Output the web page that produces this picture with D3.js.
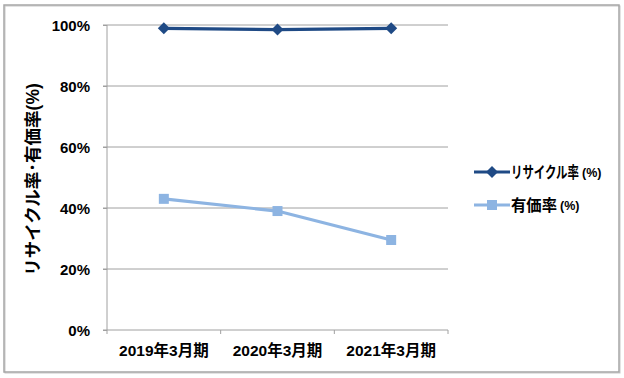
<!DOCTYPE html>
<html>
<head>
<meta charset="utf-8">
<script src="https://cdn.jsdelivr.net/npm/d3@7"></script>
<style>
  body { margin: 0; background: #fff; }
  text { font-family: "Liberation Sans", "Noto Sans CJK JP", sans-serif; font-weight: bold; fill: #000; }
</style>
</head>
<body>
<div id="chart"></div>
<script>
const categories = ["2019年3月期", "2020年3月期", "2021年3月期"];
const recycleRate = [98.9, 98.5, 98.9];
const valuableRate = [43.0, 39.0, 29.5];
const yTicks = [0, 20, 40, 60, 80, 100];
const seriesNames = ["リサイクル率", "有価率"];
const seriesColors = ["#1F4A85", "#8DB4E2"];

const W = 624, H = 378;
const margin = {top: 25, right: 176, bottom: 48, left: 107};
const width = W - margin.left - margin.right;
const height = H - margin.top - margin.bottom;

const root = d3.select("#chart").append("svg")
    .attr("width", W)
    .attr("height", H);

// outer frame
root.append("rect")
    .attr("x", 5).attr("y", 6)
    .attr("width", 615).attr("height", 367)
    .attr("fill", "none")
    .attr("stroke", "#c8c8c8")
    .attr("stroke-width", 1);
root.append("rect")
    .attr("x", 4).attr("y", 5)
    .attr("width", 615).attr("height", 367)
    .attr("fill", "none")
    .attr("stroke", "#a6a6a6")
    .attr("stroke-width", 1.5);

const svg = root.append("g")
    .attr("transform", `translate(${margin.left},${margin.top})`);

const x = d3.scaleBand().domain(categories).range([0, width]);
const y = d3.scaleLinear().domain([0, 100]).range([height, 0]);

// gridlines
svg.selectAll(".grid")
    .data(yTicks.filter(d => d > 0))
    .enter().append("line")
    .attr("x1", -4).attr("x2", width)
    .attr("y1", d => y(d)).attr("y2", d => y(d))
    .attr("stroke", "#a0a0a0")
    .attr("stroke-width", 1);

// y axis
const yAxis = d3.axisLeft(y).tickValues(yTicks).tickFormat(d => d + "%").tickSize(4).tickPadding(13);
const yg = svg.append("g").call(yAxis);
yg.select(".domain").attr("stroke", "#a0a0a0").attr("d", `M0,${height}V0`);
yg.selectAll(".tick line").attr("stroke", "#a0a0a0");
yg.selectAll("text").style("font-size", "15px").attr("dy", "0.35em");

// x axis
const xg = svg.append("g")
    .attr("transform", `translate(0,${height})`)
    .call(d3.axisBottom(x).tickSize(0).tickPadding(15));
xg.select(".domain").attr("stroke", "#a0a0a0").attr("d", `M-4,0H${width}`);
xg.selectAll("text").style("font-size", "15.5px");
svg.selectAll(".xtick")
    .data(d3.range(categories.length + 1))
    .enter().append("line")
    .attr("x1", i => i * x.step()).attr("x2", i => i * x.step())
    .attr("y1", height).attr("y2", height + 4)
    .attr("stroke", "#a0a0a0");

// y axis title
svg.append("text")
    .attr("transform", `translate(${33 - margin.left},${(height) / 2 + 2}) rotate(-90)`)
    .attr("text-anchor", "middle")
    .attr("dy", "0.35em")
    .style("font-size", "17.5px")
    .text("リサイクル率･有価率(%)");

const cx = d => x(d) + x.bandwidth() / 2;
const series = [recycleRate, valuableRate];
const line = d3.line().x((d, i) => cx(categories[i])).y(d => y(d));
const diamond = "M0,-6L6,0L0,6L-6,0Z";
const square = "M-5,-5H5V5H-5Z";

series.forEach((vals, s) => {
    svg.append("path")
        .datum(vals)
        .attr("d", line)
        .attr("fill", "none")
        .attr("stroke", seriesColors[s])
        .attr("stroke-width", 3.2);
    svg.selectAll(".m" + s)
        .data(vals)
        .enter().append("path")
        .attr("transform", (d, i) => `translate(${cx(categories[i])},${y(d)})`)
        .attr("d", s === 0 ? diamond : square)
        .attr("fill", seriesColors[s]);
});

// legend (Japanese text squeezed horizontally to match the narrow original font)
const legend = root.append("g").attr("transform", "translate(474,172)");
seriesNames.forEach((name, s) => {
    const g = legend.append("g").attr("transform", `translate(0,${s * 33})`);
    g.append("line").attr("x1", 0).attr("x2", 36).attr("stroke", seriesColors[s]).attr("stroke-width", 3.2);
    g.append("path")
        .attr("transform", "translate(18,0)")
        .attr("d", s === 0 ? diamond : square)
        .attr("fill", seriesColors[s]);
    const jpW = s === 0 ? 68 : 46;
    const jp = g.append("text").attr("dy", "0.38em")
        .style("font-size", "16px")
        .text(name);
    const natural = jp.node().getComputedTextLength();
    jp.attr("transform", `translate(37,0) scale(${Math.min(1, jpW / natural)},1)`);
    g.append("text").attr("x", 37 + jpW + 3).attr("dy", "0.38em")
        .style("font-size", "12.5px")
        .text("(%)");
});
</script>
</body>
</html>
